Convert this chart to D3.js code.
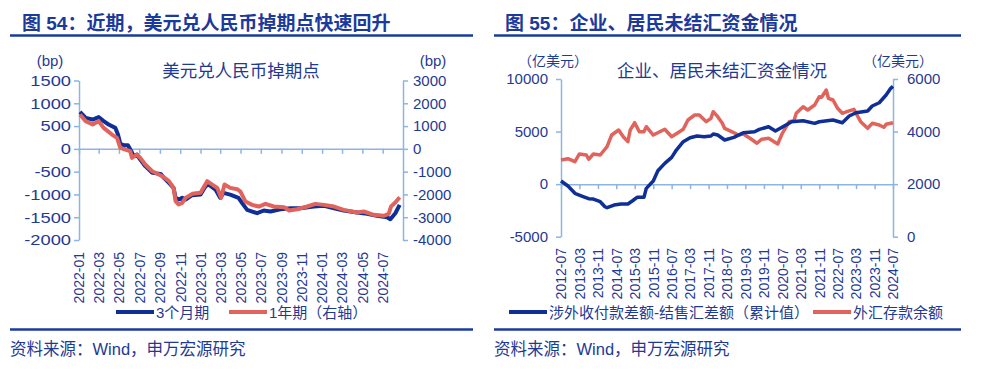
<!DOCTYPE html>
<html><head><meta charset="utf-8">
<script src="https://cdn.jsdelivr.net/npm/d3@7/dist/d3.min.js"></script>
<style>html,body{margin:0;padding:0;background:#fff;}svg{display:block;}</style>
</head><body>
<svg id="c" width="981" height="377"></svg>
<script>
// ---------- Figure 54 data ----------
const title54 = "图 54：近期，美元兑人民币掉期点快速回升";
const chartTitle54 = "美元兑人民币掉期点";
const xTicks54 = ["2022-01","2022-03","2022-05","2022-07","2022-09","2022-11","2023-01","2023-03","2023-05","2023-07","2023-09","2023-11","2024-01","2024-03","2024-05","2024-07"];
const yTicksLeft54 = [-2000,-1500,-1000,-500,0,500,1000,1500];
const yTicksRight54 = [-4000,-3000,-2000,-1000,0,1000,2000,3000];
const seriesNames54 = ["3个月期","1年期（右轴）"];
const dates3m = ["2022-01-04","2022-01-21","2022-02-11","2022-03-01","2022-03-16","2022-03-31","2022-04-20","2022-04-28","2022-05-05","2022-05-15","2022-05-28","2022-06-07","2022-06-14","2022-06-24","2022-07-04","2022-07-19","2022-08-09","2022-09-03","2022-09-13","2022-09-28","2022-10-12","2022-10-18","2022-10-27","2022-11-07","2022-11-17","2022-12-07","2023-01-01","2023-01-16","2023-01-26","2023-02-15","2023-03-01","2023-03-11","2023-03-31","2023-04-25","2023-05-06","2023-05-21","2023-06-20","2023-07-10","2023-07-30","2023-08-29","2023-09-29","2023-10-28","2023-12-07","2024-01-07","2024-02-06","2024-03-06","2024-04-15","2024-05-15","2024-06-14","2024-07-14","2024-07-24","2024-08-08","2024-08-21"];
const values3m = [812,680,643,696,608,534,461,314,110,81,81,-50,-160,-125,-235,-380,-527,-549,-637,-746,-856,-1075,-1112,-1075,-1112,-1016,-1003,-818,-783,-893,-1075,-965,-1003,-1075,-1192,-1339,-1412,-1353,-1375,-1324,-1302,-1302,-1265,-1251,-1302,-1353,-1397,-1426,-1470,-1500,-1543,-1412,-1229];
const dates1y = ["2022-01-04","2022-01-21","2022-02-11","2022-03-01","2022-03-16","2022-04-10","2022-04-25","2022-05-05","2022-05-20","2022-06-04","2022-06-09","2022-06-24","2022-07-04","2022-07-19","2022-08-09","2022-09-08","2022-09-28","2022-10-12","2022-10-18","2022-10-27","2022-11-07","2022-11-17","2022-12-07","2023-01-01","2023-01-21","2023-02-05","2023-02-20","2023-03-04","2023-03-14","2023-03-31","2023-04-21","2023-05-01","2023-05-16","2023-06-05","2023-06-25","2023-07-15","2023-08-09","2023-09-09","2023-09-24","2023-10-18","2023-11-17","2023-12-12","2024-01-07","2024-02-06","2024-03-06","2024-04-15","2024-05-05","2024-06-04","2024-07-04","2024-07-19","2024-07-26","2024-08-08","2024-08-21"];
const values1y = [1505,1216,1067,1216,922,628,483,44,-29,-102,-395,-250,-395,-688,-980,-1200,-1418,-1712,-2295,-2444,-2370,-2150,-1975,-1931,-1418,-1567,-1712,-2150,-1567,-1712,-1770,-1873,-2312,-2458,-2531,-2414,-2531,-2560,-2706,-2648,-2531,-2414,-2458,-2531,-2677,-2794,-2750,-2896,-2940,-2853,-2531,-2355,-2120];

// ---------- Figure 55 data ----------
const title55 = "图 55：企业、居民未结汇资金情况";
const chartTitle55 = "企业、居民未结汇资金情况";
const xTicks55 = ["2012-07","2013-03","2013-11","2014-07","2015-03","2015-11","2016-07","2017-03","2017-11","2018-07","2019-03","2019-11","2020-07","2021-03","2021-11","2022-07","2023-03","2023-11","2024-07"];
const yTicksLeft55 = [-5000,0,5000,10000];
const yTicksRight55 = [0,2000,4000,6000];
const seriesNames55 = ["涉外收付款差额-结售汇差额（累计值）","外汇存款余额"];
const datesGap = ["2012-07","2012-10","2013-01","2013-04","2013-07","2013-09","2013-12","2014-02","2014-03","2014-06","2014-09","2014-12","2015-02","2015-04","2015-07","2015-08","2015-11","2016-01","2016-04","2016-07","2016-09","2016-12","2017-03","2017-06","2017-09","2017-12","2018-01","2018-03","2018-06","2018-10","2019-02","2019-07","2019-09","2020-01","2020-04","2020-08","2020-11","2021-04","2021-09","2021-11","2022-05","2022-09","2022-12","2023-03","2023-08","2023-10","2024-01","2024-04","2024-06","2024-07"];
const valuesGap = [295,-181,-875,-1132,-1389,-1417,-1674,-2150,-2245,-1988,-1893,-1893,-1579,-1256,-1256,-400,295,1275,1978,2549,3244,4033,4414,4575,4509,4575,4765,4670,4195,4450,4890,4985,5210,5460,5050,5555,5935,6030,5780,5935,6097,5840,6478,6790,6953,7429,7743,8475,9112,9300];
const datesDeposit = ["2012-07","2012-10","2013-01","2013-03","2013-06","2013-07","2013-09","2013-12","2014-03","2014-05","2014-08","2014-10","2014-12","2015-01","2015-03","2015-05","2015-07","2015-08","2015-11","2016-04","2016-07","2016-12","2017-02","2017-05","2017-07","2017-10","2017-12","2018-01","2018-03","2018-05","2018-06","2018-09","2018-12","2019-02","2019-05","2019-08","2019-10","2020-01","2020-05","2020-07","2020-10","2020-12","2021-01","2021-04","2021-06","2021-09","2021-11","2021-12","2022-02","2022-03","2022-05","2022-07","2022-09","2022-11","2023-02","2023-03","2023-05","2023-08","2023-10","2024-01","2024-03","2024-04","2024-07"];
const valuesDeposit = [2918,2968,2854,3147,3108,2945,3147,3108,3424,3869,4060,3805,3615,4060,4337,3995,3995,4185,3869,4086,3805,4086,4440,4630,4630,4376,4505,4756,4566,4314,4120,3995,3869,3907,3744,3554,3706,3744,3527,3934,4376,4414,4695,4946,4821,5011,5327,5304,5582,5266,5201,4885,4695,4756,4847,4695,4376,4124,4314,4250,4162,4276,4337];

const sourceText = "资料来源：Wind，申万宏源研究";

// ---------- styles ----------
const FONT = "'Liberation Sans', Arial, 'Noto Sans CJK SC', sans-serif";
const TXT = "#1F3A93";
const TITLE = "#1B3A9C";
const AXIS = "#8DB4E2";
const BLUE = "#0F2F96";
const RED = "#E0645C";

const svg = d3.select("#c").style("font-family", FONT);
const parseDay = d3.timeParse("%Y-%m-%d");
const parseMonth = d3.timeParse("%Y-%m");
const plainNum = d => String(d);

function styleAxis(g) {
  g.select(".domain").attr("stroke", AXIS).attr("stroke-width", 1.5);
  g.selectAll(".tick line").attr("stroke", AXIS).attr("stroke-width", 1.5);
  g.selectAll(".tick text").attr("fill", TXT).style("font-family", FONT);
}

function panel(o) {
  const g = svg.append("g");
  // header
  g.append("text").attr("x", o.titleX).attr("y", 30).attr("fill", TITLE)
    .attr("font-size", 19).attr("font-weight", "bold").text(o.title);
  g.append("line").attr("x1", o.ruleX1).attr("x2", o.ruleX2).attr("y1", 35.5).attr("y2", 35.5)
    .attr("stroke", TITLE).attr("stroke-width", 2.5);
  g.append("text").attr("x", o.chartTitleX).attr("y", 77).attr("text-anchor", "middle")
    .attr("fill", TXT).attr("font-size", 17.5).text(o.chartTitle);
  g.append("text").attr("x", o.unitLX).attr("y", 66).attr("text-anchor", "middle")
    .attr("fill", TXT).attr("font-size", o.unitSize).text(o.unit);
  g.append("text").attr("x", o.unitRX).attr("y", 66).attr("text-anchor", "middle")
    .attr("fill", TXT).attr("font-size", o.unitSize).text(o.unit);

  const x = d3.scaleTime().domain(o.xDomain).range([o.x0, o.x1]);
  const yL = d3.scaleLinear().domain(o.yLDomain).range([o.yBottom, o.yTop]);
  const yR = d3.scaleLinear().domain(o.yRDomain).range([o.yBottom, o.yTop]);

  // left axis
  const la = g.append("g").attr("transform", `translate(${o.x0},0)`)
    .call(d3.axisLeft(yL).tickValues(o.yLTicks).tickFormat(plainNum).tickSize(5).tickPadding(o.padL).tickSizeOuter(0))
    .call(styleAxis);
  la.selectAll(".tick text").attr("font-size", 15);
  if (o.leftStretch) {
    la.selectAll(".tick text")
      .attr("x", -(5 + o.padL) / o.leftStretch)
      .attr("transform", `scale(${o.leftStretch},1)`);
  }
  // right axis
  g.append("g").attr("transform", `translate(${o.x1},0)`)
    .call(d3.axisRight(yR).tickValues(o.yRTicks).tickFormat(plainNum).tickSize(5).tickPadding(o.padR).tickSizeOuter(0))
    .call(styleAxis).call(a => a.selectAll(".tick text").attr("font-size", 15));
  // x axis on zero line
  const y0 = yL(0);
  const xa = g.append("g").attr("transform", `translate(0,${y0})`)
    .call(d3.axisBottom(x).tickValues(o.xTicks.map(s => parseMonth(s))).tickSize(5).tickSizeOuter(0)
      .tickFormat(d3.timeFormat("%Y-%m")))
    .call(styleAxis);
  xa.selectAll(".tick text")
    .attr("font-size", 14)
    .attr("text-anchor", "end")
    .attr("x", 0).attr("y", 0).attr("dy", "0.35em")
    .attr("transform", `translate(0,${o.labelTop - y0}) rotate(-90)`);

  // lines
  const lineL = d3.line().x(d => x(d.date)).y(d => yL(d.v));
  const lineR = d3.line().x(d => x(d.date)).y(d => yR(d.v));
  if (!o.redOnTop) {
    g.append("path").datum(o.seriesR).attr("fill", "none").attr("stroke", RED)
      .attr("stroke-width", o.lw).attr("stroke-linejoin", "round").attr("d", lineR);
  }
  g.append("path").datum(o.seriesL).attr("fill", "none").attr("stroke", BLUE)
    .attr("stroke-width", o.lw).attr("stroke-linejoin", "round").attr("d", lineL);
  if (o.redOnTop) {
    g.append("path").datum(o.seriesR).attr("fill", "none").attr("stroke", RED)
      .attr("stroke-width", o.lw).attr("stroke-linejoin", "round").attr("d", lineR);
  }

  // legend
  o.legend.forEach((it, i) => {
    g.append("line").attr("x1", it.x1).attr("x2", it.x2).attr("y1", 312).attr("y2", 312)
      .attr("stroke", i === 0 ? BLUE : RED).attr("stroke-width", 4);
    g.append("text").attr("x", it.x2 + 2).attr("y", 318).attr("fill", TXT)
      .attr("font-size", 15).text(it.name);
  });

  // footer
  g.append("line").attr("x1", o.ruleX1).attr("x2", o.ruleX2).attr("y1", 329.5).attr("y2", 329.5)
    .attr("stroke", TITLE).attr("stroke-width", 2.5);
  g.append("text").attr("x", o.ruleX1).attr("y", 355).attr("fill", TXT)
    .attr("font-size", 16.5).text(sourceText);
}

panel({
  title: title54, titleX: 22, ruleX1: 10, ruleX2: 473,
  chartTitle: chartTitle54, chartTitleX: 241,
  unit: "(bp)", unitSize: 15, unitLX: 50, unitRX: 433,
  xDomain: [parseDay("2022-01-01"), parseDay("2024-08-31")], x0: 79, x1: 403,
  yLDomain: [-2000, 1500], yRDomain: [-4000, 3000], yBottom: 240, yTop: 80.5,
  yLTicks: yTicksLeft54, yRTicks: yTicksRight54, padL: 3, padR: 5, leftStretch: 1.22,
  xTicks: xTicks54, labelTop: 252,
  seriesL: dates3m.map((d, i) => ({date: parseDay(d), v: values3m[i]})),
  seriesR: dates1y.map((d, i) => ({date: parseDay(d), v: values1y[i]})),
  lw: 4, redOnTop: true,
  legend: [{x1: 116, x2: 154, name: seriesNames54[0]}, {x1: 229, x2: 267, name: seriesNames54[1]}]
});

panel({
  title: title55, titleX: 505, ruleX1: 494, ruleX2: 961,
  chartTitle: chartTitle55, chartTitleX: 722,
  unit: "（亿美元）", unitSize: 14, unitLX: 553, unitRX: 898,
  xDomain: [parseMonth("2012-07"), parseMonth("2024-07")], x0: 561, x1: 893,
  yLDomain: [-5000, 10000], yRDomain: [0, 6000], yBottom: 236.7, yTop: 79,
  yLTicks: yTicksLeft55, yRTicks: yTicksRight55, padL: 8, padR: 9, leftStretch: 0,
  xTicks: xTicks55, labelTop: 248,
  seriesL: datesGap.map((d, i) => ({date: parseMonth(d), v: valuesGap[i]})),
  seriesR: datesDeposit.map((d, i) => ({date: parseMonth(d), v: valuesDeposit[i]})),
  lw: 3.5, redOnTop: false,
  legend: [{x1: 509, x2: 547, name: seriesNames55[0]}, {x1: 813, x2: 851, name: seriesNames55[1]}]
});
</script>
</body></html>
